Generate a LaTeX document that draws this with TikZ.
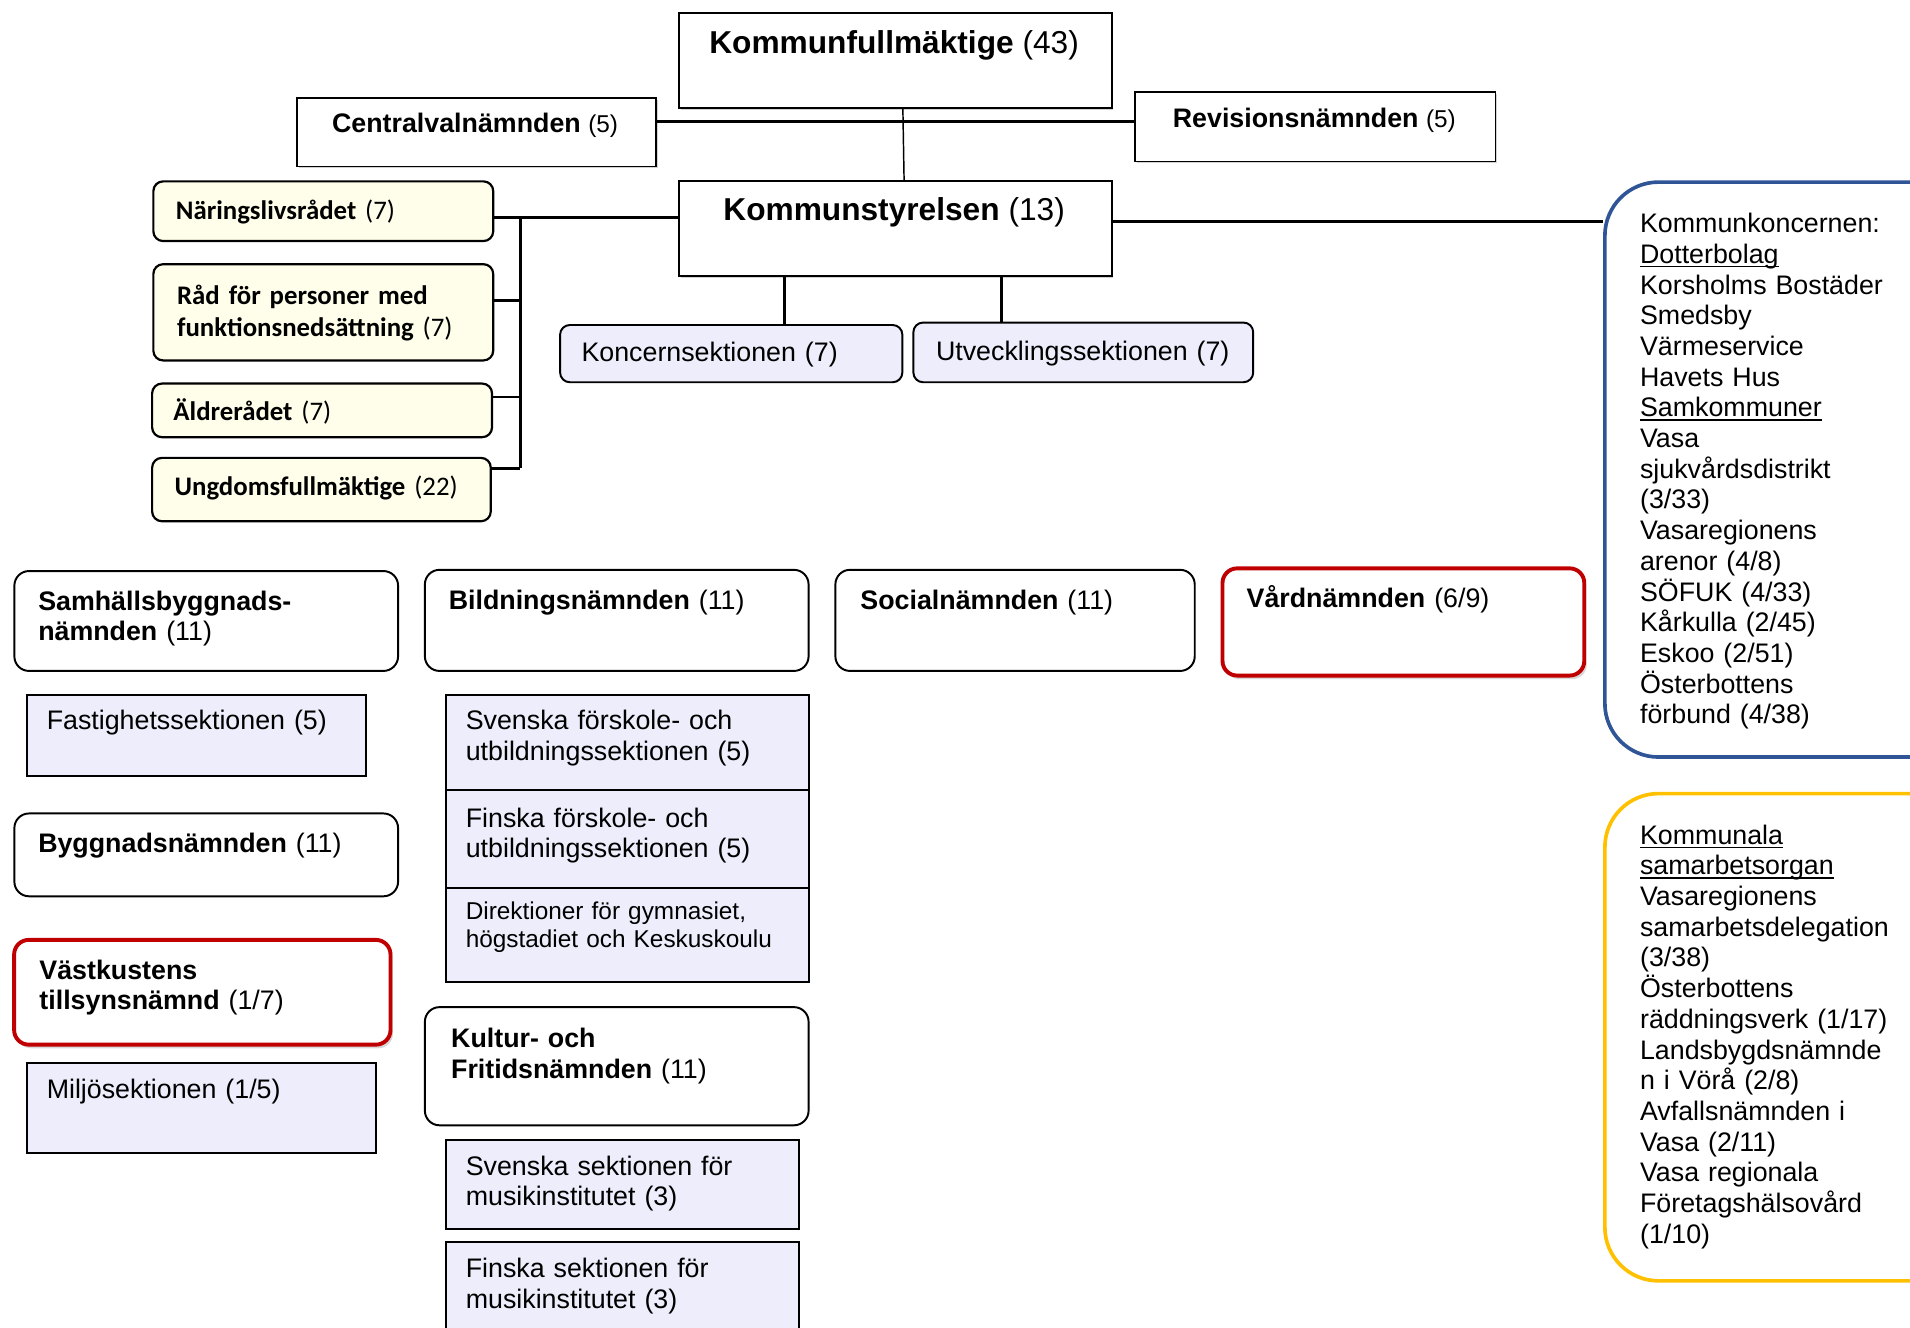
\documentclass[tikz,border=0pt]{standalone}
\usepackage{fontspec}
\setmainfont{Liberation Sans}
\newfontfamily\calfont{Carlito}
\usetikzlibrary{shadows}
\newsavebox{\ulinbox}
\newcommand{\ulin}[1]{\leavevmode\sbox{\ulinbox}{#1}\rlap{\rule[-1.6pt]{\wd\ulinbox}{.55pt}}\usebox{\ulinbox}}

\definecolor{lav}{HTML}{EDEDFB}
\definecolor{ylw}{HTML}{FEFEEA}
\definecolor{nred}{HTML}{C00000}
\definecolor{kblue}{HTML}{2F5597}
\definecolor{korange}{HTML}{FFC000}

\begin{document}
\begin{tikzpicture}[x=.5pt, y=-.5pt,
    sz/.style 2 args={minimum width=#1*.5pt, minimum height=#2*.5pt, anchor=north west, inner sep=0pt},
    topbox/.style={draw, line width=.7pt, fill=white, drop shadow={shadow xshift=.7pt, shadow yshift=-.7pt, fill=black!35}},
    yelbox/.style={draw, line width=.9pt, rounded corners=4pt, fill=ylw},
    nbox/.style={draw, line width=.8pt, rounded corners=6pt, fill=white},
    redbox/.style={draw=nred, line width=1.6pt, rounded corners=6pt, fill=white, drop shadow={shadow xshift=1pt, shadow yshift=-1.5pt, fill=black!30}},
    secbox/.style={draw, line width=.8pt, fill=lav},
    secround/.style={secbox, rounded corners=4pt},
    bigbox/.style={line width=1.5pt, rounded corners=22pt},
    txt/.style={anchor=base west, inner sep=0pt, align=left, text width=180pt, font=\fontsize{11}{12.5}\selectfont},
    ctxt/.style={anchor=base, inner sep=0pt, font=\fontsize{11}{12.5}\selectfont},
    caltxt/.style={txt, font=\calfont\fontsize{11}{13}\selectfont},
    conn/.style={line width=1.2pt},
    thinconn/.style={line width=.6pt}]
\useasboundingbox (0,0) rectangle (1568,1090);
\clip (0,0) rectangle (1568,1090);

% fullmaktige, valnamnd, revision
\node[topbox, sz={355}{78}] (kf) at (557,10) {};
\node[ctxt, font=\fontsize{13}{15}\selectfont] (kf-t) at (734,44) {\textbf{Kommunfullmäktige} (43)};
\node[topbox, sz={295}{56}] (cvn) at (243,80) {};
\node[ctxt] (cvn-t) at (390,109) {\textbf{Centralvalnämnden} {\fontsize{10}{12}\selectfont(5)}};
\node[topbox, sz={296}{57}] (rn) at (931,75) {};
\node[ctxt] (rn-t) at (1079,105) {\textbf{Revisionsnämnden} {\fontsize{10}{12}\selectfont(5)}};

% styrelsen and its sections
\node[topbox, sz={355}{78}] (ks) at (557,148) {};
\node[ctxt, font=\fontsize{13}{15}\selectfont] (ks-t) at (734,181) {\textbf{Kommunstyrelsen} (13)};
\node[secround, sz={281}{47}] (kos) at (459,266) {};
\node[txt] (kos-t) at (477,297) {Koncernsektionen (7)};
\node[secround, sz={279}{49}] (us) at (749,264) {};
\node[txt] (us-t) at (768,296) {Utvecklingssektionen (7)};

% raden
\node[yelbox, sz={279}{49}] (nar) at (125,148) {};
\node[caltxt] (nar-t) at (144,180) {\textbf{Näringslivsrådet} (7)};
\node[yelbox, sz={279}{79}] (raad) at (125,216) {};
\node[caltxt] (raad-t) at (145,250) {\textbf{Råd för personer med}\\\textbf{funktionsnedsättning} (7)};
\node[yelbox, sz={279}{44}] (aldre) at (124,314) {};
\node[caltxt] (aldre-t) at (142,345) {\textbf{Äldrerådet} (7)};
\node[yelbox, sz={278}{52}] (ungdom) at (124,375) {};
\node[caltxt] (ungdom-t) at (143,407) {\textbf{Ungdomsfullmäktige} (22)};

% namnder
\node[nbox, sz={315}{82}] (sbn) at (11,468) {};
\node[txt] (sbn-t) at (31,501) {\textbf{Samhällsbyggnads-}\\\textbf{nämnden} (11)};
\node[nbox, sz={315}{83}] (bn) at (348,467) {};
\node[txt] (bn-t) at (368,500) {\textbf{Bildningsnämnden} (11)};
\node[nbox, sz={295}{83}] (sn) at (685,467) {};
\node[txt] (sn-t) at (706,500) {\textbf{Socialnämnden} (11)};
\node[redbox, sz={297}{88}] (vn) at (1002,465) {};
\node[txt] (vn-t) at (1023,499) {\textbf{Vårdnämnden} (6/9)};

\node[secbox, sz={279}{66}] (fs) at (21,570) {};
\node[txt] (fs-t) at (38,599) {Fastighetssektionen (5)};
\node[nbox, sz={315}{68}] (byn) at (11,667) {};
\node[txt] (byn-t) at (31,700) {\textbf{Byggnadsnämnden} (11)};
\node[redbox, sz={309}{86}] (vt) at (10,770) {};
\node[txt] (vt-t) at (32,804) {\textbf{Västkustens}\\\textbf{tillsynsnämnd} (1/7)};
\node[secbox, sz={287}{74}] (ms) at (21,872) {};
\node[txt] (ms-t) at (38,902) {Miljösektionen (1/5)};

\node[secbox, sz={298}{78}] (svf) at (365,570) {};
\node[txt] (svf-t) at (382,599) {Svenska förskole- och\\utbildningssektionen (5)};
\node[secbox, sz={298}{80}] (fif) at (365,648) {};
\node[txt] (fif-t) at (382,679) {Finska förskole- och\\utbildningssektionen (5)};
\node[secbox, sz={298}{77}] (dir) at (365,728) {};
\node[txt, font=\fontsize{10}{11.5}\selectfont] (dir-t) at (382,755) {Direktioner för gymnasiet,\\högstadiet och Keskuskoulu};
\node[nbox, sz={315}{97}] (kun) at (348,826) {};
\node[txt] (kun-t) at (370,860) {\textbf{Kultur- och}\\\textbf{Fritidsnämnden} (11)};
\node[secbox, sz={290}{73}] (svm) at (365,935) {};
\node[txt] (svm-t) at (382,965) {Svenska sektionen för\\musikinstitutet (3)};
\node[secbox, sz={290}{90}] (fim) at (365,1019) {};
\node[txt] (fim-t) at (382,1049) {Finska sektionen för\\musikinstitutet (3)};

% koncern och samarbete
\node[bigbox, draw=kblue, sz={400}{472}] (kk) at (1316,148) {};
\node[txt, font=\fontsize{11}{12.6}\selectfont] (kk-t) at (1346,191) {Kommunkoncernen:\\\ulin{Dotterbolag}\\Korsholms Bostäder\\Smedsby\\Värmeservice\\Havets Hus\\\ulin{Samkommuner}\\Vasa\\sjukvårdsdistrikt\\(3/33)\\Vasaregionens\\arenor (4/8)\\SÖFUK (4/33)\\Kårkulla (2/45)\\Eskoo (2/51)\\Österbottens\\förbund (4/38)};
\node[bigbox, draw=korange, sz={400}{400}] (kso) at (1316,650) {};
\node[txt, font=\fontsize{11}{12.6}\selectfont] (kso-t) at (1346,693) {\ulin{Kommunala}\\\ulin{samarbetsorgan}\\Vasaregionens\\samarbetsdelegation\\(3/38)\\Österbottens\\räddningsverk (1/17)\\Landsbygdsnämnde\\n i Vörå (2/8)\\Avfallsnämnden i\\Vasa (2/11)\\Vasa regionala\\Företagshälsovård\\(1/10)};

% lines
\coordinate (bustop) at (427,178);
\coordinate (busbot) at (427,384);
\draw[thinconn] ([xshift=3pt]kf.south) -- ([xshift=3.5pt]ks.north);
\draw[conn] ([yshift=4.5pt]cvn.east) -- ([yshift=4.5pt]cvn.east -| rn.west);
\draw[conn] ([yshift=3pt]ks.east) -- ([yshift=3pt]ks.east -| kk.west);
\draw[conn] ([xshift=22pt]kos.north) -- ([xshift=22pt]kos.north |- ks.south);
\draw[conn] ([xshift=-33.5pt]us.north) -- ([xshift=-33.5pt]us.north |- ks.south);
\draw[conn] ([yshift=-2.75pt]nar.east) -- ([yshift=-2.75pt]nar.east -| ks.west);
\draw[conn] (bustop) -- (busbot);
\draw[conn] ([yshift=4.75pt]raad.east) -- ([yshift=4.75pt]raad.east -| bustop);
\draw[conn] ([yshift=5.5pt]aldre.east) -- ([yshift=5.5pt]aldre.east -| bustop);
\draw[conn] ([yshift=8.5pt]ungdom.east) -- ([yshift=8.5pt]ungdom.east -| bustop);
\end{tikzpicture}
\end{document}
